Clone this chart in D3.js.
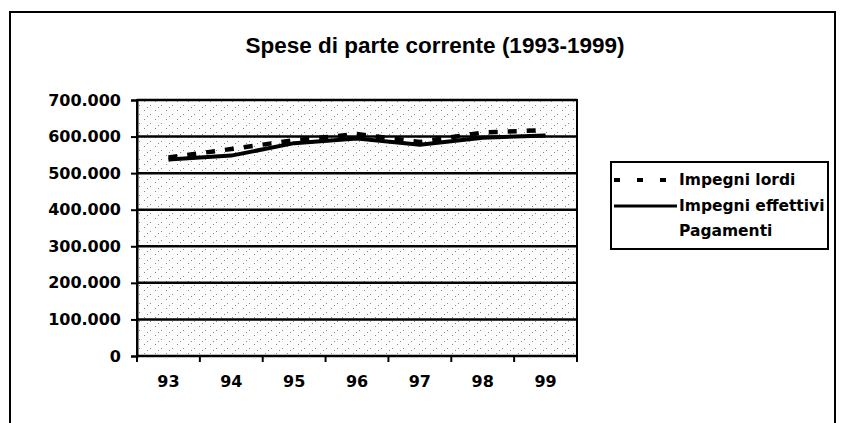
<!DOCTYPE html>
<html><head><meta charset="utf-8">
<script src="https://cdn.jsdelivr.net/npm/d3@7"></script>
<style>
html,body{margin:0;padding:0;background:#fff;}
text{font-family:"DejaVu Sans",Arial,sans-serif;font-weight:bold;fill:#000;}
</style></head>
<body><svg id="c" width="841" height="423"></svg>
<script>
const years = ["93","94","95","96","97","98","99"];
const impegniLordi = [543000, 566000, 590000, 607000, 585000, 611000, 618000];
const impegniEffettivi = [537000, 548000, 582000, 595000, 578000, 597000, 603000];
const yTicks = [0,100000,200000,300000,400000,500000,600000,700000];
const seriesNames = ["Impegni lordi","Impegni effettivi","Pagamenti"];
const title = "Spese di parte corrente (1993-1999)";

const svg = d3.select("#c");
const pl = 137, pr = 577, pt = 100, pb = 356;

// outer frame
svg.append("rect").attr("x",10).attr("y",12).attr("width",825).attr("height",440)
  .attr("fill","#fff").attr("stroke","#000").attr("stroke-width",2);

// stipple pattern
const defs = svg.append("defs");
const pat = defs.append("pattern").attr("id","stip").attr("patternUnits","userSpaceOnUse")
  .attr("width",11).attr("height",9);
pat.append("rect").attr("width",11).attr("height",9).attr("fill","#fcfcfc");
[[1,2],[7,6],[4,8]].forEach(p=>pat.append("rect").attr("x",p[0]).attr("y",p[1])
  .attr("width",1).attr("height",1).attr("fill","#8a8a8a"));

const x = d3.scaleBand().domain(years).range([pl,pr]).paddingInner(0).paddingOuter(0);
const y = d3.scaleLinear().domain([0,700000]).range([pb,pt]);
const loc = d3.formatLocale({decimal:",",thousands:".",grouping:[3],currency:["",""]});
const fmt = loc.format(",");

svg.append("rect").attr("x",pl).attr("y",pt).attr("width",pr-pl).attr("height",pb-pt)
  .attr("fill","url(#stip)");

// gridlines
svg.append("g").selectAll("line").data(yTicks).join("line")
  .attr("x1",pl).attr("x2",pr).attr("y1",d=>y(d)).attr("y2",d=>y(d))
  .attr("stroke","#000").attr("stroke-width",2.5);

// plot border
svg.append("rect").attr("x",pl).attr("y",pt).attr("width",pr-pl).attr("height",pb-pt)
  .attr("fill","none").attr("stroke","#000").attr("stroke-width",2);

// y axis
const yAxis = d3.axisLeft(y).tickValues(yTicks).tickFormat(fmt).tickSize(6).tickPadding(10);
const gy = svg.append("g").attr("transform",`translate(${pl},0)`).call(yAxis);
gy.select(".domain").attr("stroke","#000").attr("stroke-width",2);
gy.selectAll(".tick line").attr("stroke","#000").attr("stroke-width",2);
gy.selectAll("text").style("font-size","16px").attr("fill","#000");

// x axis
const xAxis = d3.axisBottom(x).tickSize(0).tickPadding(20);
const gx = svg.append("g").attr("transform",`translate(0,${pb})`).call(xAxis);
gx.select(".domain").remove();
gx.selectAll("text").style("font-size","16px").attr("fill","#000");
const bounds = years.map(d=>x(d)).concat([x.range()[1]]);
gx.selectAll("line.b").data(bounds).join("line").attr("class","b")
  .attr("x1",d=>d).attr("x2",d=>d).attr("y1",0).attr("y2",6)
  .attr("stroke","#000").attr("stroke-width",2);

// lines
const cx = d => x(d) + x.bandwidth()/2;
const line = d3.line().x((v,i)=>cx(years[i])).y(v=>y(v));
svg.append("path").datum(impegniEffettivi).attr("d",line)
  .attr("fill","none").attr("stroke","#000").attr("stroke-width",4);
svg.append("path").datum(impegniLordi).attr("d",line)
  .attr("fill","none").attr("stroke","#000").attr("stroke-width",4.5)
  .attr("stroke-dasharray","9,10");

// title
svg.append("text").attr("x",435).attr("y",53).attr("text-anchor","middle")
  .style("font-family","'Liberation Sans',Arial,sans-serif")
  .style("font-size","22.5px").text(title);

// legend
const lg = svg.append("g");
lg.append("rect").attr("x",611).attr("y",162).attr("width",217).attr("height",87)
  .attr("fill","#fff").attr("stroke","#000").attr("stroke-width",2);
const rows = [185,211,236];
seriesNames.forEach((n,i)=>{
  lg.append("text").attr("x",679).attr("y",rows[i]).style("font-size","15.5px").text(n);
});
lg.append("line").attr("x1",614).attr("x2",677).attr("y1",180).attr("y2",180)
  .attr("stroke","#000").attr("stroke-width",4).attr("stroke-dasharray","6,17");
lg.append("line").attr("x1",614).attr("x2",677).attr("y1",206).attr("y2",206)
  .attr("stroke","#000").attr("stroke-width",3);
</script></body></html>
